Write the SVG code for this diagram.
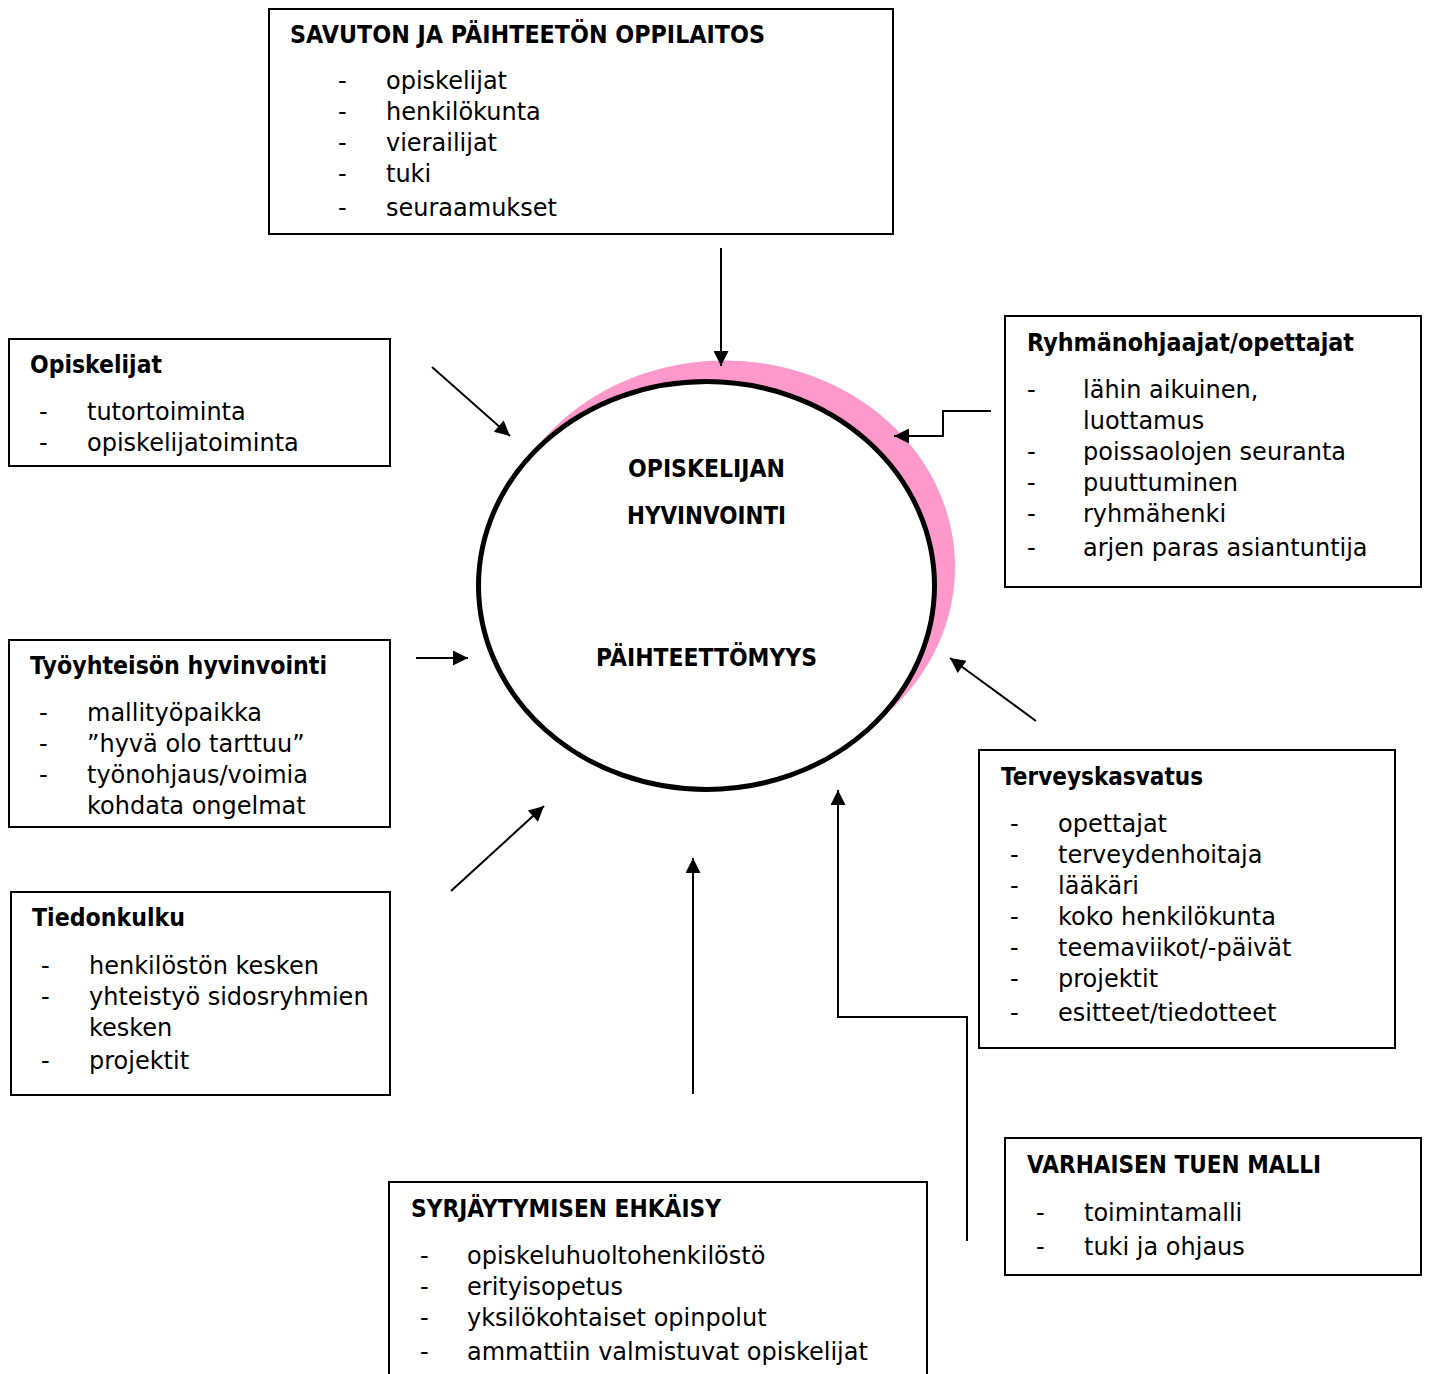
<svg xmlns="http://www.w3.org/2000/svg" width="1429" height="1374" viewBox="0 0 1429 1374">
<style>
.box{fill:#fff;stroke:#000;stroke-width:2}
.t{font-family:"DejaVu Sans",Verdana,sans-serif;font-size:24px;font-weight:bold;fill:#000}
.i{font-family:"DejaVu Sans",Verdana,sans-serif;font-size:24px;fill:#000}
.c{stroke:#000;stroke-width:2;fill:none}
</style>
<defs>
<marker id="ah" viewBox="0 0 10 10" refX="10" refY="5" markerUnits="userSpaceOnUse" markerWidth="17" markerHeight="15" orient="auto">
<path d="M0,0 L10,5 L0,10 z" fill="#000"/>
</marker>
</defs>
<rect width="1429" height="1374" fill="#fff"/>

<g id="center">
<ellipse cx="724.5" cy="567" rx="230.5" ry="206.5" fill="#FF99CC"/>
<ellipse cx="706.5" cy="585.5" rx="228" ry="204" fill="#fff" stroke="#000" stroke-width="5"/>
<text class="t" x="628" y="477" textLength="157" lengthAdjust="spacingAndGlyphs">OPISKELIJAN</text>
<text class="t" x="627" y="524" textLength="159" lengthAdjust="spacingAndGlyphs">HYVINVOINTI</text>
<text class="t" x="596" y="666" textLength="221" lengthAdjust="spacingAndGlyphs">PÄIHTEETTÖMYYS</text>
</g>

<g id="connectors">
<line class="c" x1="721" y1="248" x2="721" y2="366" marker-end="url(#ah)"/>
<line class="c" x1="432" y1="367" x2="510" y2="436" marker-end="url(#ah)"/>
<polyline class="c" points="991,411 943,411 943,436 894,436" marker-end="url(#ah)"/>
<line class="c" x1="1036" y1="721" x2="950" y2="658" marker-end="url(#ah)"/>
<line class="c" x1="416" y1="658" x2="468" y2="658" marker-end="url(#ah)"/>
<line class="c" x1="451" y1="891" x2="544" y2="806" marker-end="url(#ah)"/>
<line class="c" x1="693" y1="1094" x2="693" y2="858" marker-end="url(#ah)"/>
<polyline class="c" points="967,1241 967,1017 838,1017 838,790" marker-end="url(#ah)"/>
</g>

<g id="savuton">
<rect class="box" x="269" y="9" width="624" height="225"/>
<text class="t" x="290" y="43" textLength="475" lengthAdjust="spacingAndGlyphs">SAVUTON JA PÄIHTEETÖN OPPILAITOS</text>
<text class="i" x="338" y="89">-</text><text class="i" x="386" y="89">opiskelijat</text>
<text class="i" x="338" y="120">-</text><text class="i" x="386" y="120">henkilökunta</text>
<text class="i" x="338" y="151">-</text><text class="i" x="386" y="151">vierailijat</text>
<text class="i" x="338" y="182">-</text><text class="i" x="386" y="182">tuki</text>
<text class="i" x="338" y="216">-</text><text class="i" x="386" y="216">seuraamukset</text>
</g>

<g id="opiskelijat">
<rect class="box" x="9" y="339" width="381" height="127"/>
<text class="t" x="30" y="373" textLength="132" lengthAdjust="spacingAndGlyphs">Opiskelijat</text>
<text class="i" x="39" y="420">-</text><text class="i" x="87" y="420">tutortoiminta</text>
<text class="i" x="39" y="451">-</text><text class="i" x="87" y="451">opiskelijatoiminta</text>
</g>

<g id="ryhmanohjaajat">
<rect class="box" x="1005" y="316" width="416" height="271"/>
<text class="t" x="1027" y="351" textLength="327" lengthAdjust="spacingAndGlyphs">Ryhmänohjaajat/opettajat</text>
<text class="i" x="1027" y="398">-</text><text class="i" x="1083" y="398">lähin aikuinen,</text>
<text class="i" x="1083" y="429">luottamus</text>
<text class="i" x="1027" y="460">-</text><text class="i" x="1083" y="460">poissaolojen seuranta</text>
<text class="i" x="1027" y="491">-</text><text class="i" x="1083" y="491">puuttuminen</text>
<text class="i" x="1027" y="522">-</text><text class="i" x="1083" y="522">ryhmähenki</text>
<text class="i" x="1027" y="556">-</text><text class="i" x="1083" y="556">arjen paras asiantuntija</text>
</g>

<g id="tyoyhteison">
<rect class="box" x="9" y="640" width="381" height="187"/>
<text class="t" x="30" y="674" textLength="297" lengthAdjust="spacingAndGlyphs">Työyhteisön hyvinvointi</text>
<text class="i" x="39" y="721">-</text><text class="i" x="87" y="721">mallityöpaikka</text>
<text class="i" x="39" y="752">-</text><text class="i" x="87" y="752">”hyvä olo tarttuu”</text>
<text class="i" x="39" y="783">-</text><text class="i" x="87" y="783">työnohjaus/voimia</text>
<text class="i" x="87" y="814">kohdata ongelmat</text>
</g>

<g id="tiedonkulku">
<rect class="box" x="11" y="892" width="379" height="203"/>
<text class="t" x="32" y="926" textLength="153" lengthAdjust="spacingAndGlyphs">Tiedonkulku</text>
<text class="i" x="41" y="974">-</text><text class="i" x="89" y="974">henkilöstön kesken</text>
<text class="i" x="41" y="1005">-</text><text class="i" x="89" y="1005">yhteistyö sidosryhmien</text>
<text class="i" x="89" y="1036">kesken</text>
<text class="i" x="41" y="1069">-</text><text class="i" x="89" y="1069">projektit</text>
</g>

<g id="terveyskasvatus">
<rect class="box" x="979" y="750" width="416" height="298"/>
<text class="t" x="1001" y="785" textLength="202" lengthAdjust="spacingAndGlyphs">Terveyskasvatus</text>
<text class="i" x="1010" y="832">-</text><text class="i" x="1058" y="832">opettajat</text>
<text class="i" x="1010" y="863">-</text><text class="i" x="1058" y="863">terveydenhoitaja</text>
<text class="i" x="1010" y="894">-</text><text class="i" x="1058" y="894">lääkäri</text>
<text class="i" x="1010" y="925">-</text><text class="i" x="1058" y="925">koko henkilökunta</text>
<text class="i" x="1010" y="956">-</text><text class="i" x="1058" y="956">teemaviikot/-päivät</text>
<text class="i" x="1010" y="987">-</text><text class="i" x="1058" y="987">projektit</text>
<text class="i" x="1010" y="1021">-</text><text class="i" x="1058" y="1021">esitteet/tiedotteet</text>
</g>

<g id="varhaisen">
<rect class="box" x="1005" y="1138" width="416" height="137"/>
<text class="t" x="1027" y="1173" textLength="294" lengthAdjust="spacingAndGlyphs">VARHAISEN TUEN MALLI</text>
<text class="i" x="1036" y="1221">-</text><text class="i" x="1084" y="1221">toimintamalli</text>
<text class="i" x="1036" y="1255">-</text><text class="i" x="1084" y="1255">tuki ja ohjaus</text>
</g>

<g id="syrjaytymisen">
<rect class="box" x="389" y="1182" width="538" height="200"/>
<text class="t" x="411" y="1217" textLength="310" lengthAdjust="spacingAndGlyphs">SYRJÄYTYMISEN EHKÄISY</text>
<text class="i" x="420" y="1264">-</text><text class="i" x="467" y="1264">opiskeluhuoltohenkilöstö</text>
<text class="i" x="420" y="1295">-</text><text class="i" x="467" y="1295">erityisopetus</text>
<text class="i" x="420" y="1326">-</text><text class="i" x="467" y="1326">yksilökohtaiset opinpolut</text>
<text class="i" x="420" y="1360">-</text><text class="i" x="467" y="1360">ammattiin valmistuvat opiskelijat</text>
</g>
</svg>
